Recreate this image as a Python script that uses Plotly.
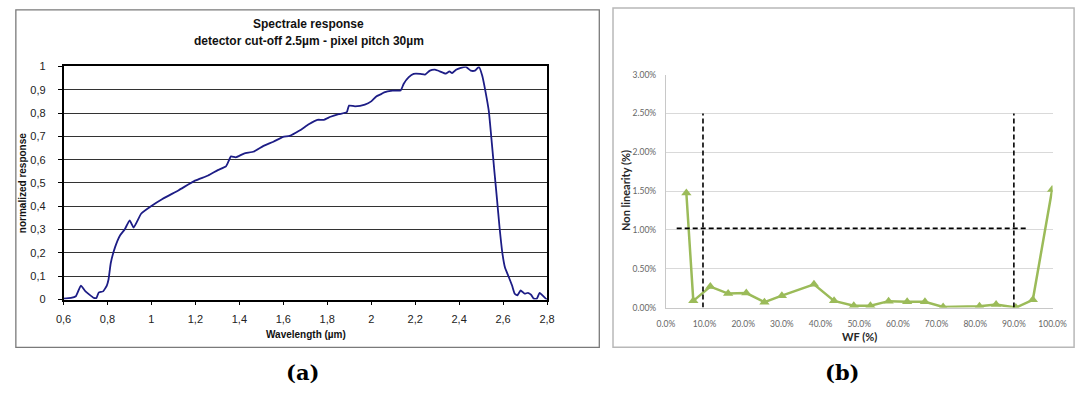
import plotly.graph_objects as go

W, H = 1092, 397

# ---------------- Panel (a) data: spectral response ----------------
wavelength_um = [0.600, 0.634, 0.656, 0.679, 0.700, 0.738, 0.750, 0.760, 0.780, 0.797,
                 0.805, 0.815, 0.835, 0.857, 0.879, 0.901, 0.919, 0.953, 0.998, 1.050,
                 1.124, 1.198, 1.258, 1.302, 1.339, 1.362, 1.384, 1.421, 1.466, 1.510,
                 1.555, 1.599, 1.629, 1.674, 1.718, 1.755, 1.785, 1.815, 1.852, 1.889,
                 1.899, 1.926, 1.971, 2.000, 2.023, 2.045, 2.059, 2.097, 2.134, 2.148,
                 2.171, 2.193, 2.223, 2.245, 2.267, 2.290, 2.312, 2.339, 2.356, 2.368,
                 2.386, 2.408, 2.431, 2.453, 2.472, 2.490, 2.505, 2.520, 2.535, 2.549,
                 2.561, 2.572, 2.584, 2.597, 2.609, 2.624, 2.641, 2.653, 2.665, 2.680,
                 2.698, 2.713, 2.727, 2.739, 2.754, 2.766, 2.779, 2.794, 2.800]
response = [0.004, 0.007, 0.014, 0.060, 0.035, 0.007, 0.007, 0.030, 0.035, 0.060,
            0.087, 0.157, 0.226, 0.275, 0.302, 0.340, 0.309, 0.368, 0.400, 0.431,
            0.469, 0.510, 0.532, 0.555, 0.571, 0.614, 0.610, 0.626, 0.635, 0.659,
            0.677, 0.698, 0.702, 0.725, 0.753, 0.771, 0.771, 0.784, 0.795, 0.804,
            0.832, 0.829, 0.836, 0.850, 0.871, 0.881, 0.889, 0.896, 0.897, 0.926,
            0.954, 0.968, 0.968, 0.965, 0.982, 0.986, 0.979, 0.969, 0.979, 0.971,
            0.986, 0.994, 0.998, 0.982, 0.982, 0.998, 0.961, 0.892, 0.809, 0.670,
            0.545, 0.434, 0.309, 0.198, 0.136, 0.101, 0.060, 0.025, 0.018, 0.039,
            0.025, 0.029, 0.021, 0.004, 0.004, 0.029, 0.018, 0.004, 0.001]

wl_tick_vals = [0.6, 0.8, 1.0, 1.2, 1.4, 1.6, 1.8, 2.0, 2.2, 2.4, 2.6, 2.8]
wl_tick_text = ["0,6", "0,8", "1", "1,2", "1,4", "1,6", "1,8", "2", "2,2", "2,4", "2,6", "2,8"]
resp_tick_vals = [0.0, 0.1, 0.2, 0.3, 0.4, 0.5, 0.6, 0.7, 0.8, 0.9, 1.0]
resp_tick_text = ["0", "0,1", "0,2", "0,3", "0,4", "0,5", "0,6", "0,7", "0,8", "0,9", "1"]

# ---------------- Panel (b) data: non linearity ----------------
wf_pct = [5.3, 7.1, 11.5, 16.1, 20.8, 25.5, 30.0, 38.3, 43.5, 48.6,
          52.9, 57.6, 62.4, 67.0, 71.7, 81.1, 85.4, 90.5, 94.9, 99.9]
nonlin_pct = [1.475, 0.087, 0.27, 0.18, 0.187, 0.07, 0.154, 0.30, 0.087, 0.025,
              0.025, 0.083, 0.075, 0.075, 0.008, 0.017, 0.04, 0.0, 0.10, 1.52]
wf_limits = [9.6, 90.0]          # vertical dashed limits (WF %)
limit_top = 2.5                  # top of the vertical dashed limits (%)
nonlin_limit = 1.02              # horizontal dashed limit (%)
nonlin_limit_span = [2.8, 93.5]  # WF extent of horizontal limit


def px(x):
    return x / W


def py(y):
    return 1 - y / H


fig = go.Figure()

fig.add_trace(go.Scatter(
    x=wavelength_um, y=response, mode="lines",
    line=dict(color="#1d1d86", width=1.8, shape="spline", smoothing=0.4),
    xaxis="x", yaxis="y", hoverinfo="skip"))

fig.add_trace(go.Scatter(
    x=wf_pct, y=nonlin_pct, mode="lines+markers",
    line=dict(color="#9bbb59", width=2.5),
    marker=dict(symbol="triangle-up", size=9, color="#9bbb59"),
    xaxis="x2", yaxis="y2", hoverinfo="skip"))

shapes = []
# panel borders
shapes.append(dict(type="rect", xref="paper", yref="paper",
                   x0=px(7), x1=px(603), y0=py(352), y1=py(4),
                   line=dict(color="#7a7a7a", width=1.3), layer="below"))
shapes.append(dict(type="rect", xref="paper", yref="paper",
                   x0=px(617), x1=px(1088), y0=py(352), y1=py(2),
                   line=dict(color="#b8b8b8", width=1.5), layer="below"))
# dashed limits in panel (b)
for lim in wf_limits:
    shapes.append(dict(type="line", xref="x2", yref="y2",
                       x0=lim, x1=lim, y0=0, y1=limit_top,
                       line=dict(color="black", width=1.6, dash="5px,3px")))
shapes.append(dict(type="line", xref="x2", yref="y2",
                   x0=nonlin_limit_span[0], x1=nonlin_limit_span[1],
                   y0=nonlin_limit, y1=nonlin_limit,
                   line=dict(color="black", width=1.6, dash="5px,3px")))

annotations = [
    dict(text="<b>Spectrale response</b>", x=px(306), y=py(19), xref="paper", yref="paper",
         showarrow=False, font=dict(family="Liberation Sans", size=12, color="#111"),
         xanchor="center", yanchor="middle"),
    dict(text="<b>detector cut-off 2.5µm - pixel pitch 30µm</b>", x=px(306), y=py(36),
         xref="paper", yref="paper", showarrow=False,
         font=dict(family="Liberation Sans", size=12, color="#111"),
         xanchor="center", yanchor="middle"),
    dict(text="<b>normalized response</b>", x=px(14), y=py(183), xref="paper", yref="paper",
         showarrow=False, textangle=-90,
         font=dict(family="Liberation Sans", size=10, color="#111"),
         xanchor="center", yanchor="middle"),
    dict(text="<b>Wavelength (µm)</b>", x=px(303), y=py(339), xref="paper", yref="paper",
         showarrow=False, font=dict(family="Liberation Sans", size=10, color="#111"),
         xanchor="center", yanchor="middle"),
    dict(text="<b>Non linearity (%)</b>", x=px(630), y=py(190), xref="paper", yref="paper",
         showarrow=False, textangle=-90,
         font=dict(family="Lato", size=11, color="#262626"),
         xanchor="center", yanchor="middle"),
    dict(text="<b>WF (%)</b>", x=px(869), y=py(341), xref="paper", yref="paper",
         showarrow=False, font=dict(family="Lato", size=11, color="#262626"),
         xanchor="center", yanchor="middle"),
    dict(text="<b>(a)</b>", x=px(300), y=py(378), xref="paper", yref="paper",
         showarrow=False, font=dict(family="DejaVu Serif", size=21, color="black"),
         xanchor="center", yanchor="middle"),
    dict(text="<b>(b)</b>", x=px(851), y=py(378), xref="paper", yref="paper",
         showarrow=False, font=dict(family="DejaVu Serif", size=21, color="black"),
         xanchor="center", yanchor="middle"),
]

fig.update_layout(
    width=W, height=H,
    margin=dict(l=0, r=0, t=0, b=0),
    paper_bgcolor="white", plot_bgcolor="white",
    showlegend=False,
    shapes=shapes, annotations=annotations,
    xaxis=dict(domain=[px(55.7), px(549.6)], range=[0.6, 2.8], anchor="y",
               tickvals=wl_tick_vals, ticktext=wl_tick_text,
               showgrid=False, zeroline=False,
               showline=True, linecolor="black", linewidth=1.5, mirror=True,
               ticks="outside", ticklen=4, tickcolor="black", ticklabelstandoff=4,
               tickfont=dict(family="Liberation Sans", size=11, color="#222")),
    yaxis=dict(domain=[py(302.7), py(62.3)], range=[0, 1], anchor="x",
               tickvals=resp_tick_vals, ticktext=resp_tick_text,
               showgrid=True, gridcolor="#333", gridwidth=1, zeroline=False,
               showline=True, linecolor="black", linewidth=1.5, mirror=True,
               ticks="outside", ticklen=4, tickcolor="black", ticklabelstandoff=10,
               tickfont=dict(family="Liberation Sans", size=11, color="#222")),
    xaxis2=dict(domain=[px(671), px(1066)], range=[0, 100], anchor="y2",
                dtick=10, tick0=0, tickformat=".1f", ticksuffix="%",
                showgrid=False, zeroline=False,
                showline=True, linecolor="#c8c8c8", linewidth=1,
                ticks="", ticklen=0, ticklabelstandoff=8,
                tickfont=dict(family="Lato", size=8.5, color="#666")),
    yaxis2=dict(domain=[py(311), py(70.7)], range=[0, 3], anchor="x2",
                dtick=0.5, tick0=0, tickformat=".2f", ticksuffix="%",
                showgrid=True, gridcolor="#d9d9d9", gridwidth=1, zeroline=False,
                showline=True, linecolor="#c8c8c8", linewidth=1,
                ticks="", ticklen=0, ticklabelstandoff=7,
                tickfont=dict(family="Lato", size=8.5, color="#666")),
)

fig.write_html("out.html")
